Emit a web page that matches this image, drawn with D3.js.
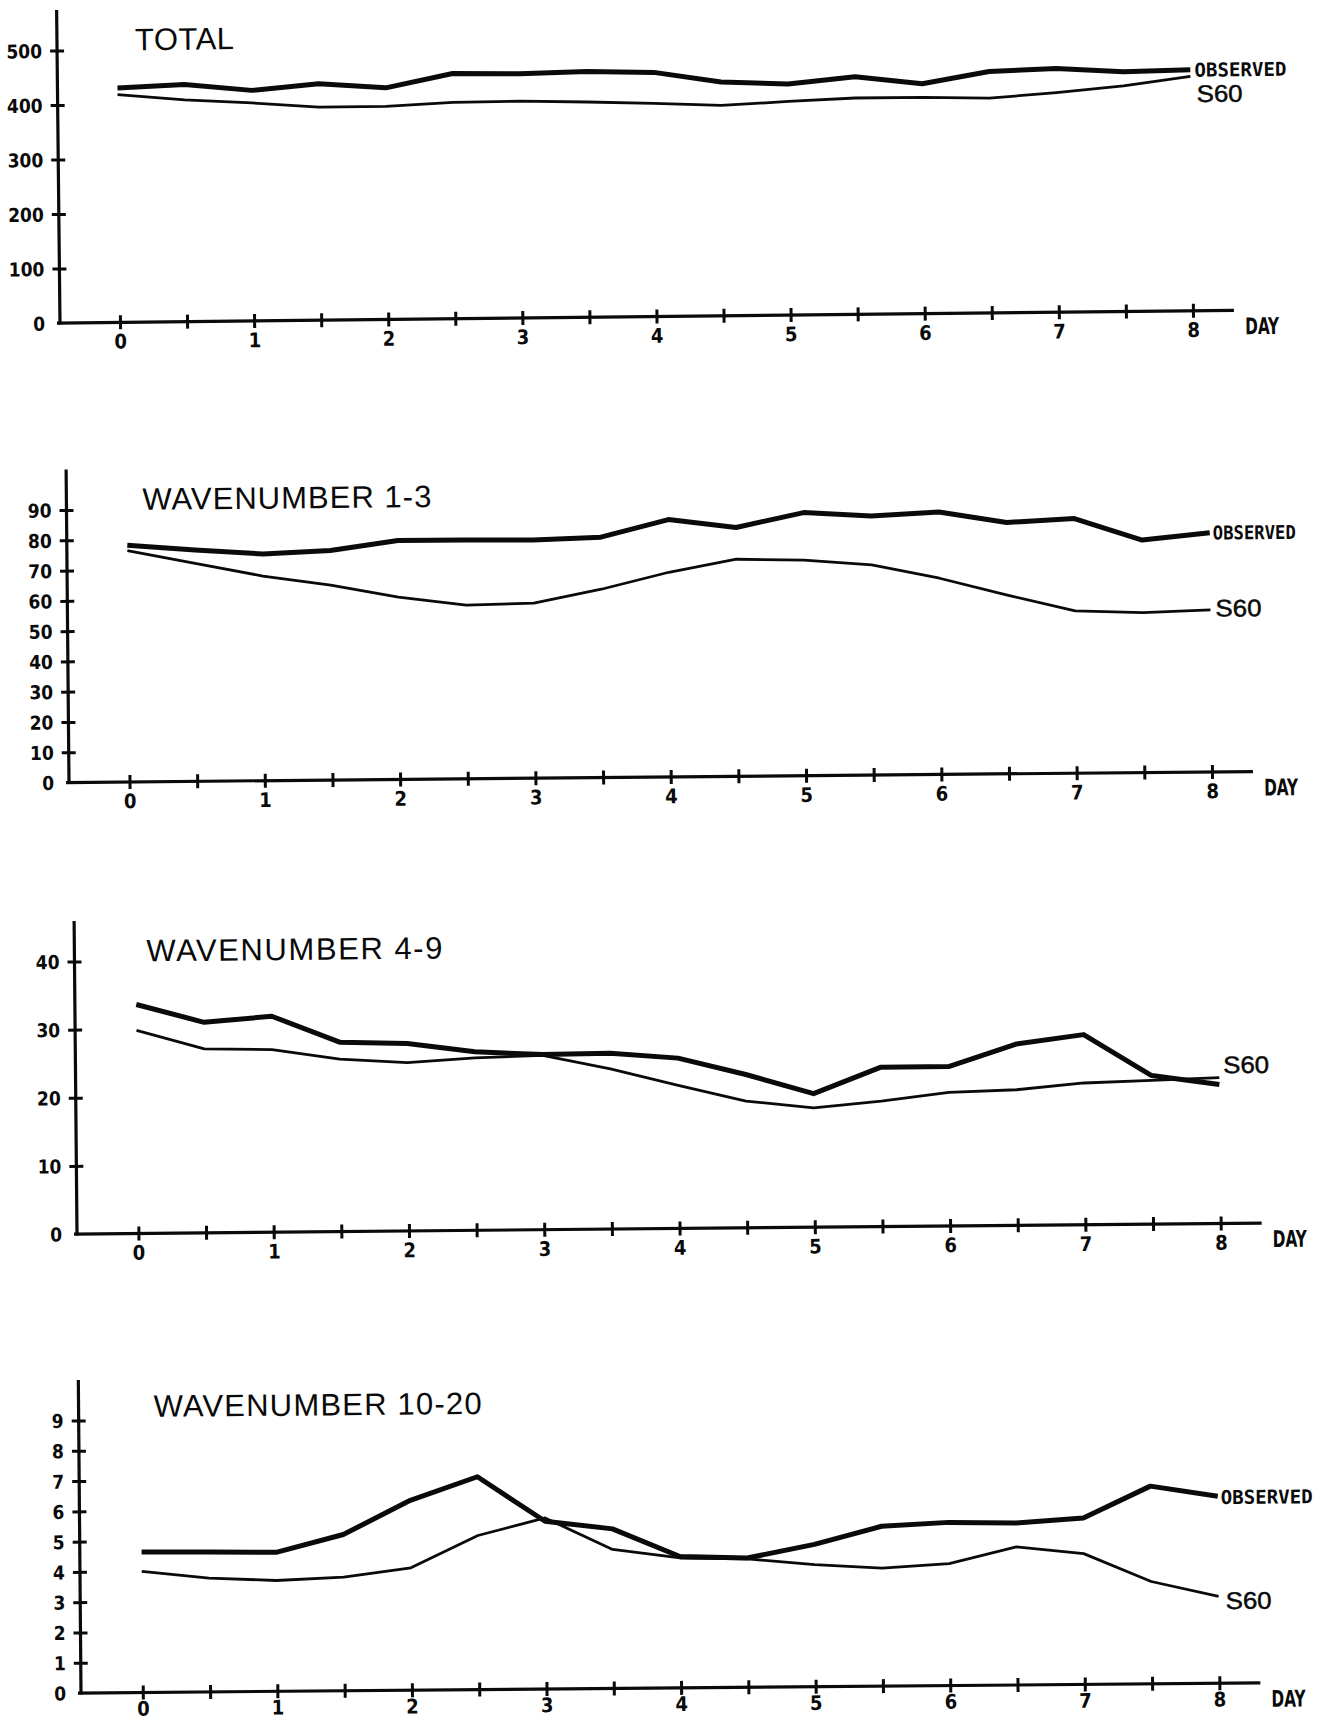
<!DOCTYPE html>
<html>
<head>
<meta charset="utf-8">
<script src="https://cdn.jsdelivr.net/npm/d3@7"></script>
<style>
  html, body { margin: 0; padding: 0; background: #fff; }
  svg { display: block; }
</style>
</head>
<body>
<svg id="chart" width="1327" height="1720"></svg>
<script>
// Days sampled every half day
const days = [0, 0.5, 1, 1.5, 2, 2.5, 3, 3.5, 4, 4.5, 5, 5.5, 6, 6.5, 7, 7.5, 8];
const dayTickLabels = ["0", "1", "2", "3", "4", "5", "6", "7", "8"];
const seriesNames = ["OBSERVED", "S60"];

// TOTAL
const totalTicks = [0, 100, 200, 300, 400, 500];
const totalObserved = [430, 435, 423, 434, 425, 450, 448, 451, 448, 429, 424, 436, 422, 443, 447, 440, 442];
const totalS60 = [418, 407, 400, 391, 391, 397, 398, 395, 391, 386, 392, 397, 397, 394, 403, 414, 430];

// WAVENUMBER 1-3
const wn13Ticks = [0, 10, 20, 30, 40, 50, 60, 70, 80, 90];
const wn13Observed = [78.2, 76.4, 74.9, 75.8, 78.9, 78.9, 78.7, 79.4, 85.0, 82.2, 86.9, 85.6, 86.7, 83.0, 84.1, 76.8, 79.0];
const wn13S60 = [76.4, 72.0, 67.6, 64.4, 60.2, 57.4, 57.8, 62.2, 67.6, 71.7, 71.2, 69.4, 64.8, 59.0, 53.6, 52.8, 53.5];

// WAVENUMBER 4-9
const wn49Ticks = [0, 10, 20, 30, 40];
const wn49Observed = [33.6, 30.9, 31.7, 27.8, 27.5, 26.2, 25.7, 25.8, 25.0, 22.5, 19.6, 23.4, 23.4, 26.6, 27.9, 21.8, 20.4];
const wn49S60 = [29.8, 27.0, 26.8, 25.3, 24.7, 25.3, 25.6, 23.5, 21.0, 18.6, 17.5, 18.4, 19.6, 19.9, 20.8, 21.1, 21.4];

// WAVENUMBER 10-20
const wn1020Ticks = [0, 1, 2, 3, 4, 5, 6, 7, 8, 9];
const wn1020Observed = [4.64, 4.62, 4.59, 5.16, 6.27, 7.03, 5.54, 5.27, 4.34, 4.27, 4.70, 5.28, 5.39, 5.35, 5.50, 6.53, 6.18];
const wn1020S60 = [4.00, 3.76, 3.66, 3.75, 4.04, 5.09, 5.65, 4.59, 4.29, 4.24, 4.03, 3.90, 4.03, 4.56, 4.32, 3.38, 2.87];

// Panel layout: origin of the axes, slight plotter tilt, label placement
const panels = [
  { title: "TOTAL", titleLen: 99, titleX: 78, titleY: -272, ticks: totalTicks,
    observed: totalObserved, s60: totalS60,
    ox: 60, oy: 323, tilt: 0.62, x0: 60, x8: 1133, xPad: 5,
    obsLabel: { dx: 4, dy: 0, len: 92 }, s60Label: { dx: 6, dy: 17 } },
  { title: "WAVENUMBER  1-3", titleLen: 289, titleX: 76, titleY: -272, ticks: wn13Ticks,
    observed: wn13Observed, s60: wn13S60,
    ox: 69, oy: 782.5, tilt: 0.53, x0: 60.5, x8: 1143, xPad: 5,
    obsLabel: { dx: 3, dy: 0, len: 83 }, s60Label: { dx: 5, dy: -2 } },
  { title: "WAVENUMBER  4-9", titleLen: 296, titleX: 72, titleY: -272, ticks: wn49Ticks,
    observed: wn49Observed, s60: wn49S60,
    ox: 77, oy: 1234, tilt: 0.53, x0: 61.4, x8: 1143.7, xPad: 5,
    obsLabel: null, s60Label: { dx: 4, dy: -13 } },
  { title: "WAVENUMBER 10-20", titleLen: 328, titleX: 75, titleY: -275.5, ticks: wn1020Ticks,
    observed: wn1020Observed, s60: wn1020S60,
    ox: 81, oy: 1693, tilt: 0.49, x0: 61.8, x8: 1138.4, xPad: 2,
    obsLabel: { dx: 3, dy: 1, len: 92 }, s60Label: { dx: 7, dy: 4 } }
];

const svg = d3.select("#chart");
svg.append("rect").attr("width", 1327).attr("height", 1720).attr("fill", "#fff");

const plotFont = "'DejaVu Sans Condensed', 'DejaVu Sans', sans-serif";
const monoFont = "'DejaVu Sans Mono', monospace";
const textFont = "'Liberation Sans', Arial, sans-serif";
const ink = "#0a0a0a";

panels.forEach(p => {
  const g = svg.append("g")
    .attr("transform", `translate(${p.ox},${p.oy}) rotate(${-p.tilt})`);

  const x = d3.scaleLinear().domain([0, 8]).range([p.x0, p.x8]);
  const yMax = p.ticks[p.ticks.length - 1];
  const y = d3.scaleLinear().domain([0, yMax]).range([0, -272.5]);

  // Axis lines
  g.append("line")
    .attr("x1", 0).attr("x2", 0).attr("y1", 1.5).attr("y2", -313)
    .attr("stroke", ink).attr("stroke-width", 3.2);
  g.append("line")
    .attr("x1", -3).attr("x2", x(8) + 41).attr("y1", 0).attr("y2", 0)
    .attr("stroke", ink).attr("stroke-width", 3.2);

  // Y axis ticks and labels
  const yAxis = d3.axisLeft(y).tickValues(p.ticks).tickSizeInner(7).tickSizeOuter(0).tickPadding(8)
    .tickFormat(d3.format("d"));
  const ya = g.append("g").call(yAxis);
  ya.select(".domain").remove();
  ya.selectAll(".tick line").attr("x1", 7).attr("x2", -7)
    .attr("stroke", ink).attr("stroke-width", 3);
  ya.selectAll(".tick text")
    .attr("fill", ink).attr("font-family", plotFont).attr("font-weight", "bold")
    .attr("font-stretch", "condensed")
    .attr("font-size", 19).attr("dy", "0.36em");
  ya.attr("font-family", null).attr("font-size", null);
  ya.selectAll(".tick").filter(d => d === 0).select("line").remove();

  // X axis ticks every half day, labels on whole days
  const xAxis = d3.axisBottom(x).tickValues(days).tickSizeInner(7).tickSizeOuter(0).tickPadding(p.xPad)
    .tickFormat(d => Number.isInteger(d) ? dayTickLabels[d] : "");
  const xa = g.append("g").call(xAxis);
  xa.select(".domain").remove();
  xa.selectAll(".tick line").attr("y1", -7).attr("y2", 7)
    .attr("stroke", ink).attr("stroke-width", 3);
  xa.selectAll(".tick text")
    .attr("fill", ink).attr("font-family", plotFont).attr("font-weight", "bold")
    .attr("font-stretch", "condensed")
    .attr("font-size", 20).attr("dy", "0.71em");
  xa.attr("font-family", null).attr("font-size", null);

  g.append("text")
    .attr("x", x(8) + 52).attr("y", 24)
    .attr("font-family", plotFont).attr("font-weight", "bold").attr("font-size", 23)
    .attr("font-stretch", "condensed")
    .attr("textLength", 34).attr("lengthAdjust", "spacingAndGlyphs")
    .attr("fill", ink).text("DAY");

  // Panel title
  g.append("text")
    .attr("x", p.titleX).attr("y", p.titleY)
    .attr("font-family", textFont).attr("font-size", 31)
    .attr("textLength", p.titleLen).attr("lengthAdjust", "spacing")
    .attr("fill", ink).text(p.title);

  // Series lines
  const line = d3.line().x((d, i) => x(days[i])).y(d => y(d));
  g.append("path").datum(p.s60).attr("d", line)
    .attr("fill", "none").attr("stroke", ink).attr("stroke-width", 2.8)
    .attr("stroke-linejoin", "round").attr("stroke-linecap", "butt");
  g.append("path").datum(p.observed).attr("d", line)
    .attr("fill", "none").attr("stroke", ink).attr("stroke-width", 5)
    .attr("stroke-linejoin", "round").attr("stroke-linecap", "butt");

  // Series labels at line ends
  const last = days.length - 1;
  if (p.obsLabel) {
    g.append("text")
      .attr("x", x(8) + p.obsLabel.dx).attr("y", y(p.observed[last]) + p.obsLabel.dy)
      .attr("dy", "0.36em")
      .attr("font-family", monoFont).attr("font-weight", "bold").attr("font-size", 19)
      .attr("textLength", p.obsLabel.len).attr("lengthAdjust", "spacingAndGlyphs")
      .attr("fill", ink).text(seriesNames[0]);
  }
  g.append("text")
    .attr("x", x(8) + p.s60Label.dx).attr("y", y(p.s60[last]) + p.s60Label.dy)
    .attr("dy", "0.36em")
    .attr("font-family", textFont).attr("font-size", 24)
    .attr("stroke", ink).attr("stroke-width", 0.5)
    .attr("textLength", 46).attr("lengthAdjust", "spacingAndGlyphs")
    .attr("fill", ink).text(seriesNames[1]);
});
</script>
</body>
</html>
